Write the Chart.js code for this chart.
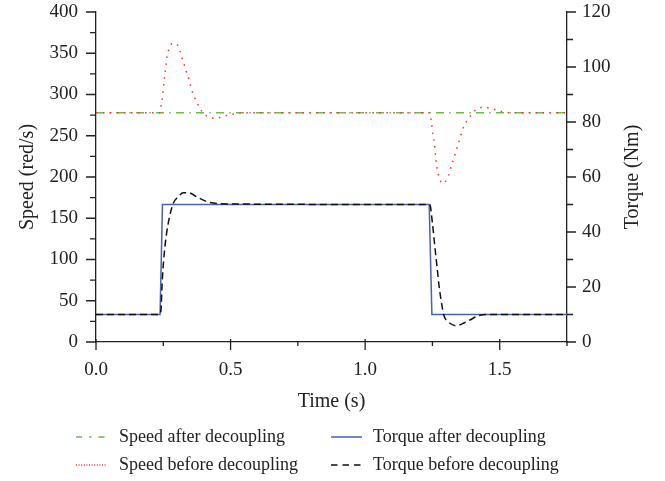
<!DOCTYPE html>
<html><head><meta charset="utf-8">
<script src="https://cdn.jsdelivr.net/npm/chart.js@4.4.0/dist/chart.umd.min.js"></script>
<style>
body{margin:0;background:#fff;}
#wrap{position:relative;width:665px;height:481px;overflow:hidden;font-family:'Liberation Serif','Times New Roman',serif;color:#222;}
#c{position:absolute;left:0;top:0;}
.lg{position:absolute;font-size:18px;line-height:20px;white-space:nowrap;}
.sw{position:absolute;width:32px;height:6px;}
</style></head><body>
<div id="wrap"><canvas id="c" width="665" height="481"></canvas></div>
<script>
// ---- data ----
const timeTicks = [0, 0.5, 1.0, 1.5];
const timeMinor = [0.25, 0.75, 1.25, 1.75];
const speedTicks = [0, 50, 100, 150, 200, 250, 300, 350, 400];
const torqueTicks = [0, 20, 40, 60, 80, 100, 120];

const xTitle = 'Time (s)';
const yTitle = 'Speed (red/s)';
const y1Title = 'Torque (Nm)';

const seriesNames = ['Speed after decoupling', 'Speed before decoupling', 'Torque after decoupling', 'Torque before decoupling'];

const speedAfterT = [0, 1.75];
const speedAfterV = [278, 278];

const speedBeforeT = [0, 0.237, 0.2413, 0.2477, 0.2525, 0.2588, 0.2648, 0.272, 0.283, 0.303, 0.312, 0.319, 0.327, 0.334, 0.342, 0.349, 0.356, 0.364, 0.374, 0.386, 0.398, 0.419, 0.442, 0.467, 0.491, 0.516, 0.55, 1.238, 1.244, 1.2477, 1.25, 1.254, 1.2577, 1.26, 1.2625, 1.265, 1.269, 1.275, 1.285, 1.2997, 1.31, 1.317, 1.3246, 1.332, 1.339, 1.347, 1.354, 1.3617, 1.37, 1.384, 1.397, 1.417, 1.44, 1.463, 1.488, 1.512, 1.537, 1.75];
const speedBeforeV = [278, 278, 285, 299, 315, 332, 348, 355, 362, 360, 353, 345, 337, 329, 322, 314, 305, 298, 291, 284, 277, 273, 271, 273, 275, 276.5, 278, 278, 271, 263, 256, 248, 240, 231.5, 223, 215, 207, 200, 192.4, 195, 202, 210, 218, 225.5, 233, 241, 249, 257, 264, 270, 277, 282.4, 284.8, 283.3, 281.2, 279, 278, 278];

const torqueAfterT = [0, 0.238, 0.247, 1.238, 1.248, 1.75];
const torqueAfterV = [10, 10, 50, 50, 10, 10];

const torqueBeforeT = [0, 0.236, 0.2414, 0.2462, 0.2562, 0.2685, 0.287, 0.3056, 0.324, 0.343, 0.374, 0.405, 0.423, 0.497, 1.236, 1.240, 1.250, 1.259, 1.267, 1.275, 1.284, 1.292, 1.308, 1.339, 1.358, 1.389, 1.420, 1.463, 1.75];
const torqueBeforeV = [10, 10, 11.6, 22.5, 34.7, 43.2, 50.4, 52.8, 54.3, 54.3, 52.8, 51.3, 50.7, 50.2, 50, 50, 43.2, 34.7, 27.4, 20.1, 14.1, 9.8, 7.4, 5.9, 6.5, 8.0, 9.5, 10, 10];

// ---- styles ----
const FONT = "'Liberation Serif','Times New Roman',serif";
const INK = '#222';
const cGreen = '#6dbb48', cRed = '#ff3030', cBlue = '#4a63b0', cBlack = '#111';

const pts = (t, v) => t.map((x, i) => ({x: x, y: v[i]}));
const mid = a => a.slice(1).map((v, i) => (v + a[i]) / 2);

const tickPlugin = {
  id: 'customTicks',
  afterDraw(chart) {
    const ctx = chart.ctx;
    const sx = chart.scales.x, sy = chart.scales.y, sy1 = chart.scales.y1;
    ctx.save();
    ctx.strokeStyle = INK;
    ctx.lineWidth = 1.3;
    ctx.beginPath();
    speedTicks.forEach(v => { const p = sy.getPixelForValue(v); ctx.moveTo(sy.right, p); ctx.lineTo(sy.right - 10, p); });
    mid(speedTicks).forEach(v => { const p = sy.getPixelForValue(v); ctx.moveTo(sy.right, p); ctx.lineTo(sy.right - 6, p); });
    torqueTicks.forEach(v => { const p = sy1.getPixelForValue(v); ctx.moveTo(sy1.left, p); ctx.lineTo(sy1.left + 9, p); });
    mid(torqueTicks).forEach(v => { const p = sy1.getPixelForValue(v); ctx.moveTo(sy1.left, p); ctx.lineTo(sy1.left + 6, p); });
    timeTicks.forEach(v => { const p = sx.getPixelForValue(v); ctx.moveTo(p, sx.top - 3); ctx.lineTo(p, sx.top + 8); });
    timeMinor.forEach(v => { const p = sx.getPixelForValue(v); ctx.moveTo(p, sx.top); ctx.lineTo(p, sx.top + 4); });
    ctx.stroke();
    // right axis title, reading bottom to top
    const ca = chart.chartArea;
    ctx.translate(sy1.right - 32, (ca.top + ca.bottom) / 2);
    ctx.rotate(-Math.PI / 2);
    ctx.fillStyle = INK;
    ctx.font = '20px ' + FONT;
    ctx.textAlign = 'center';
    ctx.textBaseline = 'middle';
    ctx.fillText(y1Title, 0, 0);
    ctx.restore();
  }
};

const common = {pointRadius: 0, pointHoverRadius: 0, fill: false, borderWidth: 1.5};
const noPad = s => { s.paddingTop = 0; s.paddingBottom = 0; s.paddingLeft = 0; s.paddingRight = 0; };

new Chart(document.getElementById('c'), {
  type: 'line',
  data: {
    datasets: [
      Object.assign({}, common, {label: seriesNames[3], data: pts(torqueBeforeT, torqueBeforeV), yAxisID: 'y1', borderColor: cBlack, borderDash: [7, 4], cubicInterpolationMode: 'monotone'}),
      Object.assign({}, common, {label: seriesNames[2], data: pts(torqueAfterT, torqueAfterV), yAxisID: 'y1', borderColor: cBlue, tension: 0}),
      Object.assign({}, common, {label: seriesNames[1], data: pts(speedBeforeT, speedBeforeV), yAxisID: 'y', borderColor: cRed, borderDash: [1.5, 5.5], cubicInterpolationMode: 'monotone'}),
      Object.assign({}, common, {label: seriesNames[0], data: pts(speedAfterT, speedAfterV), yAxisID: 'y', borderColor: cGreen, borderDash: [8, 5.3, 1.5, 5.2]})
    ]
  },
  options: {
    responsive: false,
    animation: false,
    devicePixelRatio: 1,
    layout: {padding: {top: 12, left: 0, right: 0, bottom: 67}},
    plugins: {legend: {display: false}, tooltip: {enabled: false}},
    scales: {
      x: {
        type: 'linear', min: 0, max: 1.75,
        afterBuildTicks: s => { s.ticks = timeTicks.map(v => ({value: v})); },
        afterFit: s => { s.height = 72; noPad(s); },
        ticks: {color: INK, font: {family: FONT, size: 19}, padding: 17, maxRotation: 0, callback: v => Number(v).toFixed(1)},
        grid: {display: false, drawTicks: false},
        border: {display: true, color: INK, width: 1.3},
        title: {display: true, text: xTitle, color: INK, font: {family: FONT, size: 20}, padding: {top: 0, bottom: 0}}
      },
      y: {
        type: 'linear', position: 'left', min: 0, max: 400,
        afterBuildTicks: s => { s.ticks = speedTicks.map(v => ({value: v})); },
        afterFit: s => { s.width = 96; noPad(s); },
        ticks: {color: INK, font: {family: FONT, size: 19}, padding: 18},
        grid: {display: false, drawTicks: false},
        border: {display: true, color: INK, width: 1.3},
        title: {display: true, text: yTitle, color: INK, font: {family: FONT, size: 20}, padding: {top: 16, bottom: 16}}
      },
      y1: {
        type: 'linear', position: 'right', min: 0, max: 120,
        afterBuildTicks: s => { s.ticks = torqueTicks.map(v => ({value: v})); },
        afterFit: s => { s.width = 98; noPad(s); },
        ticks: {color: INK, font: {family: FONT, size: 19}, padding: 15},
        grid: {display: false, drawTicks: false},
        border: {display: true, color: INK, width: 1.3},
        title: {display: false}
      }
    }
  },
  plugins: [tickPlugin]
});

// ---- HTML legend ----
const wrap = document.getElementById('wrap');
const legendItems = [
  {name: seriesNames[0], color: cGreen, dash: '6 7 2.5 7', w: 1.5, sx: 76, tx: 119, cy: 437},
  {name: seriesNames[1], color: cRed, dash: '1 1.6', w: 1.3, sx: 76, tx: 119, cy: 465},
  {name: seriesNames[2], color: cBlue, dash: 'none', w: 1.5, sx: 331, tx: 373, cy: 437},
  {name: seriesNames[3], color: cBlack, dash: '6.5 5', w: 1.5, sx: 331, tx: 373, cy: 465}
];
legendItems.forEach(it => {
  const ns = 'http://www.w3.org/2000/svg';
  const svg = document.createElementNS(ns, 'svg');
  svg.setAttribute('class', 'sw');
  svg.setAttribute('width', '32'); svg.setAttribute('height', '6');
  svg.style.left = it.sx + 'px'; svg.style.top = (it.cy - 3) + 'px';
  const ln = document.createElementNS(ns, 'line');
  ln.setAttribute('x1', '0'); ln.setAttribute('x2', '31'); ln.setAttribute('y1', '3'); ln.setAttribute('y2', '3');
  ln.setAttribute('stroke', it.color); ln.setAttribute('stroke-width', it.w);
  if (it.dash !== 'none') ln.setAttribute('stroke-dasharray', it.dash);
  svg.appendChild(ln);
  wrap.appendChild(svg);
  const d = document.createElement('div');
  d.className = 'lg';
  d.textContent = it.name;
  d.style.left = it.tx + 'px';
  d.style.top = (it.cy - 11) + 'px';
  wrap.appendChild(d);
});
</script>
</body></html>
